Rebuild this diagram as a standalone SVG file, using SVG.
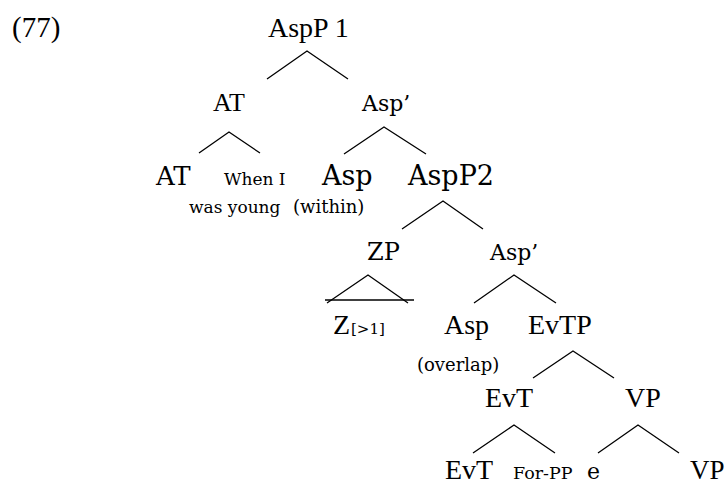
<svg xmlns="http://www.w3.org/2000/svg" width="725" height="485" viewBox="0 0 725 485">
<style>
  text { fill: #000; }
  .br { fill: none; stroke: #000; stroke-width: 1.3; }
</style>
<rect width="725" height="485" fill="#fff"/>
<g id="connectors">
  <polyline class="br" points="267,79 307,51 348,79"/>
  <polyline class="br" points="199,153 229,132 260,153"/>
  <polyline class="br" points="344,154 384,127 426,154"/>
  <polyline class="br" points="402,229 443,201 483,229"/>
  <polyline class="br" points="327,303 368,275 408,303"/>
  <line class="br" x1="325" y1="300" x2="414" y2="300"/>
  <polyline class="br" points="474,303 514,275 556,303"/>
  <polyline class="br" points="533,378 573,351 614,378"/>
  <polyline class="br" points="473,453 514,425 555,453"/>
  <polyline class="br" points="598,453 638,425 679,453"/>
</g>
<g font-family="Liberation Serif, serif" font-size="28">
<g id="example-number"><text x="12" y="37" font-size="29">(77)</text></g>
<g id="n-AspP1"><text x="268" y="37">AspP 1</text></g>
<g id="n-AT1"><text x="213" y="111" font-size="26">AT</text></g>
<g id="n-Z"><text x="333" y="334">Z</text></g>
<g id="n-Asp2"><text x="444" y="334">Asp</text></g>
<g id="n-EvTP"><text x="528" y="334">EvTP</text></g>
<g id="n-EvT1"><text x="485" y="407">EvT</text></g>
<g id="n-VP1"><text x="625" y="407">VP</text></g>
<g id="n-EvT2"><text x="445" y="479">EvT</text></g>
<g id="n-VP2"><text x="690" y="479" font-size="27">VP</text></g>
</g>
<g font-family="DejaVu Serif, serif">
<g id="n-Aspbar1"><text x="362" y="111" font-size="22">Asp’</text></g>
<g id="n-AT2"><text x="156" y="185" font-size="26">AT</text></g>
<g id="n-WhenI"><text x="224" y="185" font-size="17">When I</text><text x="189" y="213" font-size="17">was young</text></g>
<g id="n-Asp1-label"><text x="322" y="185" font-size="27">Asp</text><text x="293" y="213" font-size="18">(within)</text></g>
<g id="n-AspP2"><text x="408" y="185" font-size="27">AspP2</text></g>
<g id="n-ZP"><text x="367" y="260" font-size="24">ZP</text></g>
<g id="n-Aspbar2"><text x="490" y="260" font-size="22">Asp’</text></g>
<g id="n-Z-sub"><text x="351" y="334" font-size="15">[&gt;1]</text></g>
<g id="n-Asp2-sub"><text x="417" y="371" font-size="18">(overlap)</text></g>
<g id="n-ForPP"><text x="513" y="479" font-size="17.5">For-PP</text></g>
<g id="n-e"><text x="587" y="479" font-size="22">e</text></g>
</g>
</svg>
